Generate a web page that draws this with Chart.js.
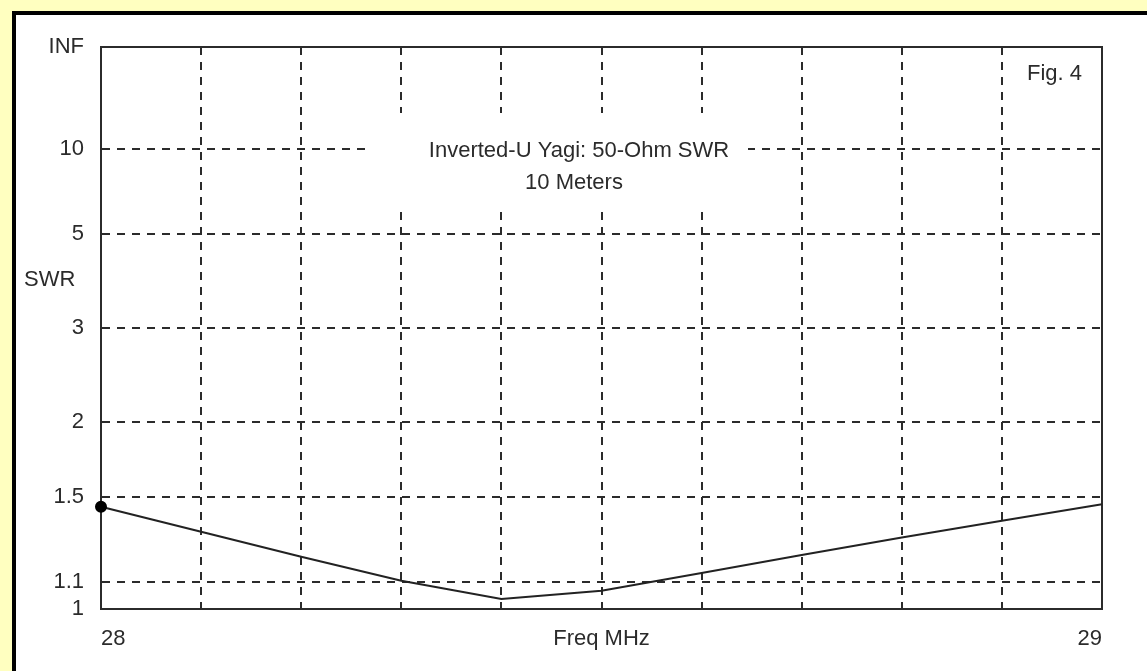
<!DOCTYPE html>
<html>
<head>
<meta charset="utf-8">
<script src="https://cdn.jsdelivr.net/npm/chart.js@4.4.1/dist/chart.umd.min.js"></script>
<style>
  html, body { margin: 0; padding: 0; background: #ffffc0; overflow: hidden; }
  #wrap { width: 1147px; height: 671px; position: relative; }
</style>
</head>
<body>
<div id="wrap"><canvas id="swrChart" width="1147" height="671"></canvas></div>
<script>
// Frequency sweep (MHz) and the 50-ohm SWR measured at each step
const freqMHz = [28.0, 28.1, 28.2, 28.3, 28.4, 28.5, 28.6, 28.7, 28.8, 28.9, 29.0];
const swrValues = [1.445, 1.319, 1.205, 1.106, 1.036, 1.067, 1.137, 1.213, 1.292, 1.373, 1.458];

// SWR axis: gridlines and their labels
const swrTicks = [1, 1.1, 1.5, 2, 3, 5, 10, Infinity];
const swrTickLabels = ['1', '1.1', '1.5', '2', '3', '5', '10', 'INF'];

// Frequency axis: gridlines every 100 kHz, labels on a few of them
const freqGrid = [28.0, 28.1, 28.2, 28.3, 28.4, 28.5, 28.6, 28.7, 28.8, 28.9, 29.0];
const freqTickText = { '28.0': '28', '28.5': 'Freq MHz', '29.0': '29' };

const titleLines = ['Inverted-U Yagi: 50-Ohm SWR', '10 Meters'];
const figLabel = 'Fig. 4';
const yAxisName = 'SWR';

// The vertical scale is linear in reflection coefficient |rho| = (S-1)/(S+1)
const toRho = s => (s === Infinity ? 1 : (s - 1) / (s + 1));

const FONT = "'Liberation Sans', Arial, sans-serif";
const INK = '#2b2b2b';
const FONT_SIZE = 22;

const backdrop = {
  id: 'backdrop',
  beforeDraw(chart) {
    const { ctx, width, height } = chart;
    ctx.save();
    ctx.fillStyle = '#ffffc0';
    ctx.fillRect(0, 0, width, height);
    ctx.fillStyle = '#000000';
    ctx.fillRect(12, 11, width - 12, height - 11);
    ctx.fillStyle = '#ffffff';
    ctx.fillRect(16, 15, width - 16, height - 15);
    ctx.restore();
  }
};

const frameAndNotes = {
  id: 'frameAndNotes',
  beforeDatasetsDraw(chart) {
    const { ctx, chartArea: a } = chart;
    ctx.save();
    // plot frame
    ctx.strokeStyle = INK;
    ctx.lineWidth = 2;
    ctx.strokeRect(a.left, a.top, a.right - a.left, a.bottom - a.top);

    // title block sits on a white panel over the grid
    ctx.fillStyle = '#ffffff';
    ctx.fillRect(366, 113, 382, 95);
    ctx.fillStyle = INK;
    ctx.font = FONT_SIZE + 'px ' + FONT;
    ctx.textAlign = 'center';
    ctx.textBaseline = 'middle';
    ctx.fillText(titleLines[0], 579, 151);
    ctx.fillText(titleLines[1], 574, 183);

    ctx.textAlign = 'right';
    ctx.fillText(figLabel, 1082, 74);

    ctx.textAlign = 'left';
    ctx.fillText(yAxisName, 24, 280);
    ctx.restore();
  }
};

new Chart(document.getElementById('swrChart'), {
  type: 'line',
  data: {
    datasets: [{
      data: freqMHz.map((f, i) => ({ x: f, y: toRho(swrValues[i]) })),
      borderColor: '#222222',
      borderWidth: 2,
      pointRadius: c => (c.dataIndex === 0 ? 5 : 0),
      pointBackgroundColor: '#000000',
      pointBorderColor: '#000000',
      tension: 0,
      clip: false
    }]
  },
  options: {
    responsive: false,
    devicePixelRatio: 1,
    animation: false,
    events: [],
    layout: { padding: { left: 0, top: 47, right: 45, bottom: 0 } },
    plugins: { legend: { display: false }, tooltip: { enabled: false } },
    scales: {
      x: {
        type: 'linear',
        min: 28,
        max: 29,
        afterBuildTicks: s => { s.ticks = freqGrid.map(v => ({ value: v })); },
        afterFit: s => { s.height = 62; },
        grid: { color: INK, lineWidth: 2, drawTicks: false },
        border: { color: INK, width: 2, dash: [8, 7] },
        ticks: {
          autoSkip: false,
          maxRotation: 0,
          align: 'inner',
          padding: 17,
          color: INK,
          font: { family: FONT, size: FONT_SIZE },
          callback: v => freqTickText[Number(v).toFixed(1)] || ''
        }
      },
      y: {
        type: 'linear',
        min: 0,
        max: 1,
        afterBuildTicks: s => { s.ticks = swrTicks.map(v => ({ value: toRho(v) })); },
        afterFit: s => { s.width = 101; },
        grid: { color: INK, lineWidth: 2, drawTicks: false },
        border: { color: INK, width: 2, dash: [8, 7] },
        ticks: {
          autoSkip: false,
          padding: 17,
          color: INK,
          font: { family: FONT, size: FONT_SIZE },
          callback: (v, i) => swrTickLabels[i]
        }
      }
    }
  },
  plugins: [backdrop, frameAndNotes]
});
</script>
</body>
</html>
